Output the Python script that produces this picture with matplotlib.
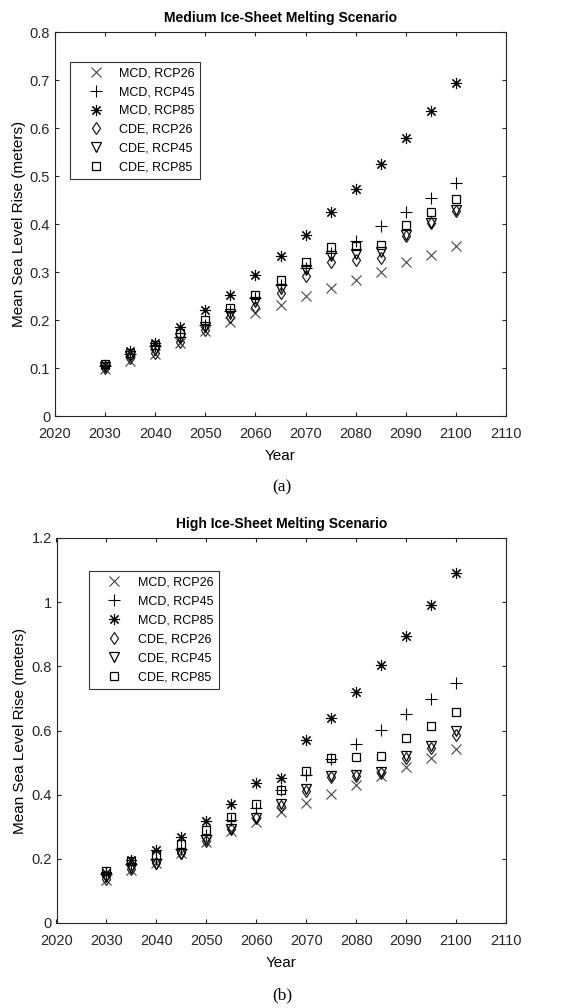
import matplotlib.pyplot as plt

plt.rcParams['font.family'] = ['Liberation Sans', 'DejaVu Sans']

years = [2030, 2035, 2040, 2045, 2050, 2055, 2060, 2065, 2070, 2075, 2080, 2085, 2090, 2095, 2100]

# medium ice-sheet melting scenario
med_mcd26 = [0.098, 0.115, 0.130, 0.152, 0.177, 0.195, 0.214, 0.231, 0.249, 0.266, 0.283, 0.301, 0.320, 0.336, 0.355]
med_mcd45 = [0.105, 0.130, 0.145, 0.165, 0.190, 0.219, 0.245, 0.273, 0.309, 0.340, 0.365, 0.396, 0.426, 0.455, 0.486]
med_mcd85 = [0.107, 0.135, 0.153, 0.186, 0.220, 0.253, 0.293, 0.334, 0.378, 0.424, 0.472, 0.526, 0.580, 0.636, 0.694]
med_cde26 = [0.100, 0.121, 0.132, 0.155, 0.180, 0.206, 0.228, 0.256, 0.292, 0.320, 0.325, 0.329, 0.376, 0.403, 0.427]
med_cde45 = [0.102, 0.124, 0.138, 0.162, 0.186, 0.213, 0.238, 0.265, 0.304, 0.334, 0.338, 0.342, 0.377, 0.402, 0.429]
med_cde85 = [0.109, 0.131, 0.147, 0.172, 0.199, 0.226, 0.252, 0.283, 0.320, 0.352, 0.354, 0.357, 0.397, 0.424, 0.452]

# high ice-sheet melting scenario
high_mcd26 = [0.135, 0.166, 0.187, 0.218, 0.252, 0.288, 0.316, 0.345, 0.374, 0.402, 0.430, 0.458, 0.486, 0.514, 0.542]
high_mcd45 = [0.154, 0.183, 0.201, 0.232, 0.273, 0.320, 0.360, 0.413, 0.461, 0.512, 0.558, 0.603, 0.650, 0.699, 0.748]
high_mcd85 = [0.155, 0.195, 0.226, 0.268, 0.318, 0.372, 0.435, 0.452, 0.569, 0.639, 0.720, 0.803, 0.895, 0.990, 1.092]
high_cde26 = [0.138, 0.168, 0.188, 0.219, 0.255, 0.293, 0.326, 0.366, 0.411, 0.455, 0.459, 0.467, 0.513, 0.546, 0.587]
high_cde45 = [0.144, 0.170, 0.185, 0.216, 0.258, 0.294, 0.328, 0.371, 0.418, 0.459, 0.462, 0.472, 0.519, 0.551, 0.597]
high_cde85 = [0.161, 0.192, 0.211, 0.247, 0.289, 0.331, 0.371, 0.416, 0.473, 0.514, 0.517, 0.522, 0.577, 0.615, 0.659]

labels = ['MCD, RCP26', 'MCD, RCP45', 'MCD, RCP85', 'CDE, RCP26', 'CDE, RCP45', 'CDE, RCP85']
# (8, 2, 0) is an 8-spoke asterisk like MATLAB's '*'
markers = ['x', '+', (8, 2, 0), 'd', 'v', 's']
colors = ['#444444', 'black', 'black', '#222222', 'black', 'black']
sizes = [7, 9, 8, 6, 7, 6]


def draw(ax, series, title, ymax, yticks, leg_anchor):
    for vals, lab, m, c, s in zip(series, labels, markers, colors, sizes):
        if m in ('x', '+') or isinstance(m, tuple):
            ax.plot(years, vals, linestyle='none', marker=m, color=c, markersize=s,
                    markeredgewidth=0.8, label=lab)
        else:
            ax.plot(years, vals, linestyle='none', marker=m, markerfacecolor='none',
                    markeredgecolor=c, markersize=s, markeredgewidth=0.9, label=lab)
    ax.set_xlim(2020, 2110)
    ax.set_ylim(0, ymax)
    ax.set_xticks(range(2020, 2111, 10))
    ax.set_yticks(yticks)
    ax.set_yticklabels([('%g' % t) for t in yticks])
    ax.tick_params(direction='in', top=True, right=True, labelsize=10.5, length=3,
                   colors='#262626')
    ax.tick_params(axis='x', pad=8)
    for sp in ax.spines.values():
        sp.set_color('#262626')
        sp.set_linewidth(0.8)
    ax.set_title(title, fontsize=10, fontweight='bold', pad=7)
    ax.set_xlabel('Year', fontsize=11, labelpad=6)
    ax.set_ylabel('Mean Sea Level Rise (meters)', fontsize=11, labelpad=3)
    leg = ax.legend(loc='upper left', bbox_to_anchor=leg_anchor, fontsize=9,
                    frameon=True, fancybox=False, edgecolor='black', handlelength=3.2,
                    handletextpad=0.25, borderpad=0.45, labelspacing=0.55, borderaxespad=0)
    leg.get_frame().set_linewidth(0.8)


fig = plt.figure(figsize=(5.69, 10.08), dpi=100)
ax1 = fig.add_axes([55 / 569, 1 - 416 / 1008, 451 / 569, 384 / 1008])
ax2 = fig.add_axes([56.5 / 569, 1 - 923 / 1008, 449.5 / 569, 385 / 1008])

draw(ax1, [med_mcd26, med_mcd45, med_mcd85, med_cde26, med_cde45, med_cde85],
     'Medium Ice-Sheet Melting Scenario', 0.8, [0, 0.1, 0.2, 0.3, 0.4, 0.5, 0.6, 0.7, 0.8],
     (0.033, 0.923))
draw(ax2, [high_mcd26, high_mcd45, high_mcd85, high_cde26, high_cde45, high_cde85],
     'High Ice-Sheet Melting Scenario', 1.2, [0, 0.2, 0.4, 0.6, 0.8, 1.0, 1.2],
     (0.072, 0.914))

fig.text(282 / 569, 1 - 487 / 1008, '(a)', ha='center', va='center', fontsize=12.5,
         family=['Liberation Serif', 'DejaVu Serif'])
fig.text(282 / 569, 1 - 995 / 1008, '(b)', ha='center', va='center', fontsize=12.5,
         family=['Liberation Serif', 'DejaVu Serif'])

fig.savefig('out.png', dpi=100)
